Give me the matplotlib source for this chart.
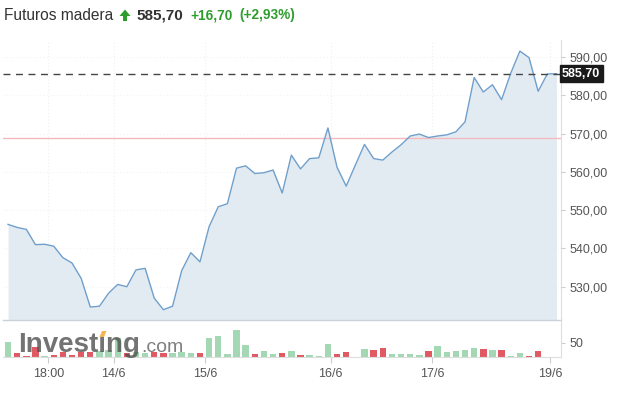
import matplotlib
matplotlib.use("Agg")
import matplotlib.pyplot as plt
from matplotlib.patches import Polygon
import numpy as np

plt.rcParams['font.family'] = ['Liberation Sans', 'DejaVu Sans']

# ---------------- data ----------------
price = [546.3, 545.5, 545.0, 541.0, 541.1, 540.6, 537.6, 536.2, 532.2, 524.7,
         524.9, 528.3, 530.6, 530.0, 534.4, 534.8, 527.0, 524.0, 524.9, 534.2,
         538.9, 536.5, 545.7, 550.9, 551.7, 561.0, 561.6, 559.6, 559.8, 560.5,
         554.5, 564.4, 560.8, 563.5, 563.7, 571.5, 561.2, 556.3, 561.8, 567.2,
         563.5, 563.1, 565.2, 567.1, 569.4, 569.9, 569.0, 569.4, 569.7, 570.5,
         573.1, 584.7, 580.9, 582.8, 578.9, 585.8, 591.6, 589.9, 581.1, 585.6,
         585.7]
volume = [51, 14, 5, 34, 4, 8, 19, 6, 19, 17,
          20, 25, 65, 14, 18, 15, 17, 14, 14, 19,
          14, 14, 65, 72, 10, 93, 42, 11, 20, 10,
          15, 20, 8, 7, 3, 45, 11, 18, 1, 27,
          25, 32, 11, 11, 11, 7, 20, 39, 18, 22,
          25, 31, 28, 25, 25, 5, 14, 5, 20, 0,
          0]
prev_close = 569.0
last_price = 585.7
change = 16.70
change_pct = 2.93
price_ticks = [530, 540, 550, 560, 570, 580, 590]
x_tick_pos = [4.4, 11.55, 21.6, 35.3, 46.4, 59.3]
x_tick_labels = ["18:00", "14/6", "15/6", "16/6", "17/6", "19/6"]
title = "Futuros madera"

def fmt(v):
    return f"{v:,.2f}".replace(",", "X").replace(".", ",").replace("X", ".")

# ---------------- figure ----------------
W, H = 617, 397
fig = plt.figure(figsize=(W / 100, H / 100), dpi=100)
fig.patch.set_facecolor("white")

def fx(px):
    return px / W

def fy(py):
    return 1 - py / H

x = np.arange(len(price))
xlim = (-0.55, 60.5)

# price axes
ax = fig.add_axes([fx(3), fy(320), fx(558), 280 / H])
ax.set_xlim(*xlim)
ax.set_ylim(521.3, 594.5)
ax.plot(x, price, color="#6f9fcb", lw=1.0, zorder=3)
ax.fill_between(x, price, 521.3, color="#e3ebf2", zorder=2, lw=0)
ax.axhline(prev_close, color="#f3b9bd", lw=1.0, zorder=2.5)
ax.axhline(last_price, color="#444444", lw=1.0, ls=(0, (5, 4)), zorder=4)
for t in price_ticks:
    ax.axhline(t, color="#f4f4f4", lw=0.8, ls=(0, (1, 2)), zorder=1)
for t in x_tick_pos:
    ax.axvline(t, color="#f0f0f0", lw=0.8, ls=(0, (1, 2)), zorder=1)
ax.set_yticks(price_ticks)
ax.set_yticklabels([fmt(t) for t in price_ticks])
ax.yaxis.tick_right()
ax.tick_params(axis="y", length=3, color="#cccccc", labelsize=9,
               labelcolor="#555555", pad=3)
ax.set_xticks([])
for s in ["top", "left"]:
    ax.spines[s].set_visible(False)
ax.spines["right"].set_color("#dddddd")
ax.spines["bottom"].set_color("#c9d1da")
ax.spines["bottom"].set_linewidth(1.0)
ax.set_facecolor("none")

# last price box
ax.text(1.002, (last_price - 521.3) / (594.5 - 521.3), fmt(last_price),
        transform=ax.transAxes, ha="left", va="center", fontsize=9,
        fontweight="bold", color="white",
        bbox=dict(boxstyle="square,pad=0.18", fc="#1a1a1a", ec="#1a1a1a"),
        zorder=10, clip_on=False)

# volume axes
axv = fig.add_axes([fx(3), fy(357), fx(558), 37 / H])
axv.set_xlim(*xlim)
axv.set_ylim(0, 129)
colors = ["#a4d8b4" if i == 0 or price[i] >= price[i - 1] else "#e05a63"
          for i in range(len(price))]
axv.bar(x, volume, width=0.7, color=colors, zorder=2)
axv.set_yticks([50])
axv.set_yticklabels(["50"])
axv.yaxis.tick_right()
axv.tick_params(axis="y", length=3, color="#cccccc", labelsize=9,
                labelcolor="#555555", pad=3)
axv.set_xticks(x_tick_pos)
axv.set_xticklabels(x_tick_labels)
axv.tick_params(axis="x", length=4, color="#cccccc", labelsize=9,
                labelcolor="#555555", pad=4)
for s in ["top", "left"]:
    axv.spines[s].set_visible(False)
axv.spines["right"].set_color("#dddddd")
axv.spines["bottom"].set_color("#dddddd")
axv.set_facecolor("none")

# watermark
fig.text(fx(18), fy(352), "Investıng", fontsize=20, fontweight="bold",
         color="#505050", alpha=0.8, ha="left", va="baseline", zorder=20)
fig.text(fx(141), fy(352), ".com", fontsize=14, color="#606060",
         alpha=0.8, ha="left", va="baseline", zorder=20)
fig.patches.append(Polygon([[fx(99.5), fy(337)], [fx(104), fy(337)],
                            [fx(106.5), fy(331)], [fx(102), fy(331)]],
                           closed=True, transform=fig.transFigure,
                           fc="#f0b040", ec="none", alpha=0.9, zorder=21))

# title line
fig.text(fx(4), fy(15), title, fontsize=11.2, color="#333333",
         ha="left", va="center")
green = "#2e9d2e"
fig.patches.append(Polygon([[fx(119.5), fy(16)], [fx(125), fy(9.5)],
                            [fx(130.5), fy(16)], [fx(127), fy(16)],
                            [fx(127), fy(21)], [fx(123), fy(21)],
                            [fx(123), fy(16)]],
                           closed=True, transform=fig.transFigure,
                           fc=green, ec="none"))
fig.text(fx(136), fy(15), fmt(last_price), fontsize=11, fontweight="bold",
         color="#333333", ha="left", va="center")
fig.text(fx(190), fy(15), "+" + fmt(change), fontsize=9.8, fontweight="bold",
         color=green, ha="left", va="center")
fig.text(fx(239), fy(15), "(+" + fmt(change_pct) + "%)", fontsize=9.8,
         fontweight="bold", color=green, ha="left", va="center")

fig.savefig("out.png", dpi=100)
